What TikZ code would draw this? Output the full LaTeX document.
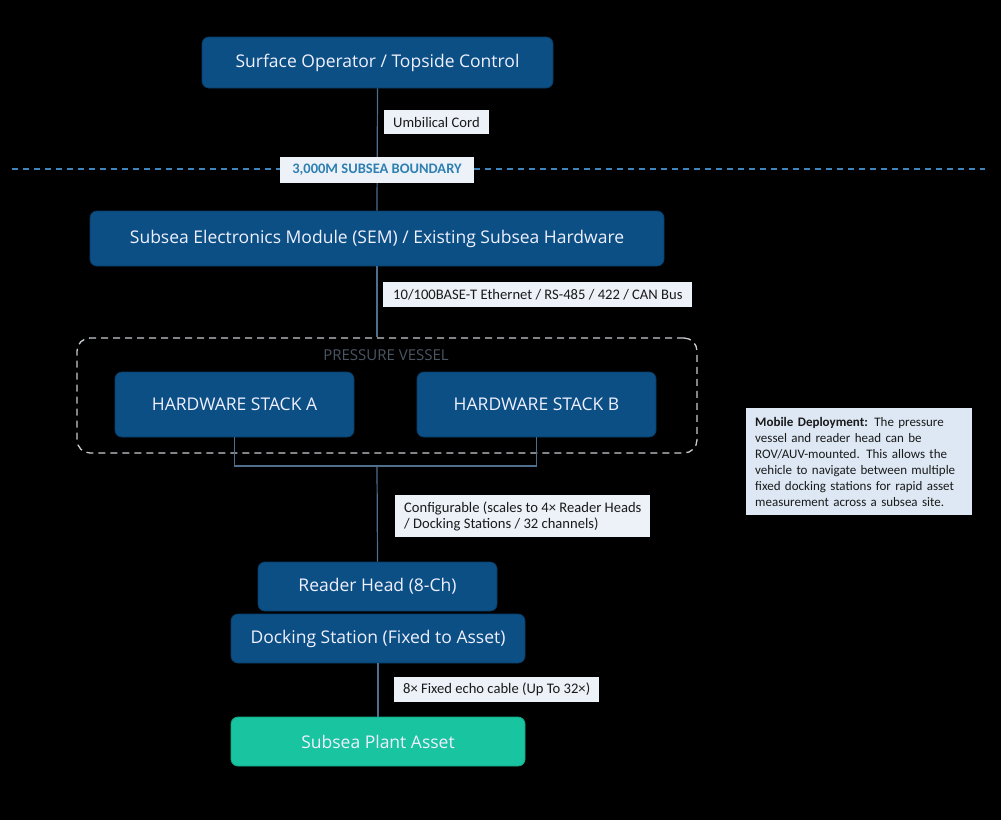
\documentclass[tikz,border=0pt]{standalone}
\usepackage{fontspec}
\setmainfont{Open Sans}
\newfontfamily\lbl{Carlito}
\definecolor{boxblue}{HTML}{0B4F85}
\definecolor{boxedge}{HTML}{0A3D66}
\definecolor{linec}{HTML}{4F6E8E}
\definecolor{lblfill}{HTML}{EDF2F8}
\definecolor{lbltext}{HTML}{1A1A1A}
\definecolor{dashc}{HTML}{3D85BC}
\definecolor{bndtext}{HTML}{2F80B2}
\definecolor{vessel}{HTML}{C8CCD0}
\definecolor{vesseltext}{HTML}{4A5663}
\definecolor{tealc}{HTML}{19C4A0}
\definecolor{tealedge}{HTML}{12A585}
\definecolor{notefill}{HTML}{DDE8F4}
\begin{document}
\begin{tikzpicture}[x=1pt,y=-1pt,
 box/.style={draw=boxedge, line width=0.8pt, fill=boxblue, rounded corners=7pt, text=white!94!blue, font=\fontsize{17.5}{20}\selectfont, inner sep=0pt},
 lab/.style={fill=lblfill, text=lbltext, font=\lbl\fontsize{14.6}{16}\selectfont, inner xsep=9pt, inner ysep=0pt, minimum height=24pt, anchor=north west, align=left},
 conn/.style={draw=linec, line width=1.2pt}]
\fill[black] (0,0) rectangle (1001,820);
\useasboundingbox (0,0) rectangle (1001,820);

% boundary line
\coordinate (bl) at (12,169);
\coordinate (br) at (985,169);
\draw[dashc, line width=1.3pt, dash pattern=on 6pt off 5pt] (bl) -- (br);

% nodes
\node[box, minimum width=351pt, minimum height=51pt] (surf) at (377.5,62.5) {Surface Operator / Topside Control};
\node[box, minimum width=574pt, minimum height=55pt] (sem) at (377,238.5) {Subsea Electronics Module (SEM) / Existing Subsea Hardware};

\node[draw=vessel, dashed, dash pattern=on 7pt off 5pt, rounded corners=13pt, line width=1.3pt, minimum width=620pt, minimum height=115pt, inner sep=0pt] (pv) at (387,395.5) {};
\node[text=vesseltext, font=\fontsize{15}{17}\selectfont, inner sep=0pt] (pvl) at (386,355.5) {PRESSURE VESSEL};

\node[box, minimum width=239pt, minimum height=65pt] (sa) at (234.5,404.5) {HARDWARE STACK A};
\node[box, minimum width=239pt, minimum height=65pt] (sb) at (536.5,404.5) {HARDWARE STACK B};

\node[box, minimum width=239pt, minimum height=49pt] (rh) at (377.5,586.5) {Reader Head (8-Ch)};
\node[box, minimum width=294pt, minimum height=49pt] (ds) at (378,638.5) {Docking Station (Fixed to Asset)};
\node[box, fill=tealc, draw=tealedge, minimum width=294pt, minimum height=49pt] (asset) at (378,741.5) {Subsea Plant Asset};

\coordinate (j) at (377,466);

% connectors
\draw[conn] (surf.south) -- (sem.north);
\draw[conn] (sem.south) -- (sem.south |- pv.north);
\draw[conn] (sa.south) |- (j) -| (sb.south);
\draw[conn] (j) -- (rh.north);
\draw[conn] (ds.south) -- (ds.south |- asset.north);

% labels
\node[lab] (l1) at (384,110) {Umbilical Cord};
\node[fill=lblfill, text=bndtext, font=\lbl\bfseries\fontsize{14.5}{16}\selectfont, minimum width=194pt, minimum height=26pt, inner sep=0pt] (bnd) at (377,170) {3,000M SUBSEA BOUNDARY};
\node[lab, minimum height=25pt, inner xsep=10pt] (l2) at (383,282) {10/100BASE-T Ethernet / RS-485 / 422 / CAN Bus};
\node[lab, minimum height=42pt] (l3) at (395,495) {Configurable (scales to 4× Reader Heads\\/ Docking Stations / 32 channels)};
\node[lab, minimum height=25pt] (l4) at (394,677) {8× Fixed echo cable (Up To 32×)};

% note
\node[fill=notefill, text=lbltext, font=\lbl\fontsize{13}{16}\selectfont, anchor=north west, align=left, inner xsep=9pt, inner ysep=5pt, minimum width=226pt, minimum height=107pt, text width=208pt] (note) at (746,408) {\textbf{Mobile Deployment:} The pressure\\vessel and reader head can be\\ROV/AUV-mounted. This allows the\\vehicle to navigate between multiple\\fixed docking stations for rapid asset\\measurement across a subsea site.};
\end{tikzpicture}
\end{document}
